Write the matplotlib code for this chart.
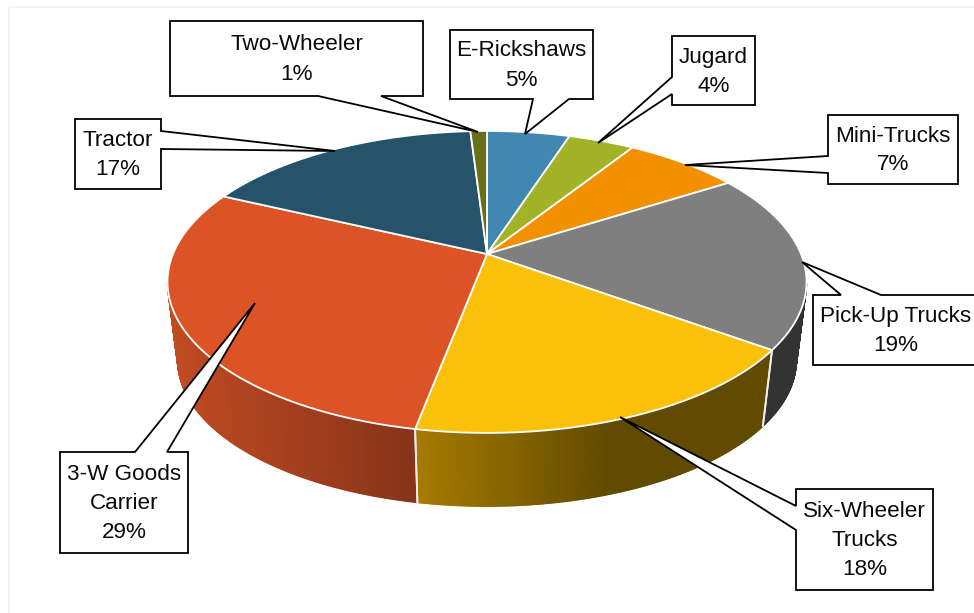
import numpy as np
import matplotlib
matplotlib.use("Agg")
import matplotlib.pyplot as plt
from matplotlib.collections import PolyCollection
from matplotlib.patches import Polygon, Rectangle

categories = ["E-Rickshaws", "Jugard", "Mini-Trucks", "Pick-Up Trucks",
              "Six-Wheeler\nTrucks", "3-W Goods\nCarrier", "Tractor", "Two-Wheeler"]
shares = [5, 4, 7, 19, 18, 29, 17, 1]
top_colors = ["#4187B2", "#A3B327", "#F39000", "#7F7F7F",
              "#FBC108", "#DC5426", "#26536B", "#657019"]

# Wall colours: left-end colour, right-end colour and the x range of the shading
wall_shading = {
    3: ("#333333", "#333333", 760, 810),
    4: ("#A87C00", "#614B00", 410, 610),
    5: ("#C04B22", "#87341A", 170, 409),
}

# Callout layout in pixels: box (x0, y0, x1, y1), pointer base on one side, tip
callouts = {
    "E-Rickshaws": ((450, 30, 593, 99), "bottom", (533, 569), (525, 134)),
    "Jugard": ((672, 36, 755, 105), "left", (77, 94), (598, 143)),
    "Mini-Trucks": ((828, 115, 958, 184), "left", (156, 173), (685, 165)),
    "Pick-Up Trucks": ((813, 295, 985, 365), "top", (841, 881), (802, 262)),
    "Six-Wheeler\nTrucks": ((796, 489, 933, 590), "left", (506, 530), (620, 417)),
    "3-W Goods\nCarrier": ((60, 452, 188, 553), "top", (135, 167), (255, 303)),
    "Tractor": ((75, 119, 161, 189), "right", (131, 149), (335, 151)),
    "Two-Wheeler": ((170, 21, 423, 96), "bottom", (318, 381), (478, 132)),
}
text_centers = {"Pick-Up Trucks": 896}

CX, CY = 487.0, 254.0
WIDTH, HEIGHT, PERSP = 314.0, 145.8, 0.185
WALL_SCALE, WALL_DROP = 0.968, 79.0


def rim(theta):
    """Project a clockwise angle from 12 o'clock onto the tilted pie's top rim."""
    x, y = np.sin(theta), np.cos(theta)
    w = 1 + PERSP * y
    return WIDTH * x / w, -HEIGHT * y / w


def hex_rgb(c):
    return np.array(matplotlib.colors.to_rgb(c))


fig = plt.figure(figsize=(9.74, 6.13), dpi=100)
ax = fig.add_axes([0, 0, 1, 1])
ax.set_xlim(0, 974)
ax.set_ylim(613, 0)
ax.axis("off")

ax.add_patch(Rectangle((9, 7), 1000, 700, fill=False, ec="#F2F2F2", lw=1.2, zorder=0))

edges = np.cumsum([0] + shares) / sum(shares) * 2 * np.pi

# Outer wall, built from narrow strips so the shading runs smoothly;
# only the part facing the viewer is drawn
for i, (a0, a1) in enumerate(zip(edges[:-1], edges[1:])):
    if i not in wall_shading:
        continue
    left, right, xa, xb = wall_shading[i]
    th = np.linspace(a0, a1, 260)
    dx, dy = rim(th)
    tx, ty = CX + dx, CY + dy
    bx, by = CX + WALL_SCALE * dx, CY + WALL_DROP + WALL_SCALE * dy
    quads, cols = [], []
    for k in range(len(th) - 1):
        if ty[k] < CY + 30 and ty[k + 1] < CY + 30:
            continue
        quads.append([(tx[k], ty[k]), (tx[k + 1], ty[k + 1]), (bx[k + 1], by[k + 1]), (bx[k], by[k])])
        t = np.clip(((tx[k] + tx[k + 1]) / 2 - xa) / (xb - xa), 0, 1)
        cols.append((1 - t) * hex_rgb(left) + t * hex_rgb(right))
    ax.add_collection(PolyCollection(quads, facecolors=cols, edgecolors=cols, linewidths=1.0, zorder=2))
    # White seam where two wall sections meet
    for k in (0, -1):
        if ty[k] > CY + 60:
            ax.plot([tx[k], bx[k]], [ty[k], by[k]], color="#EFEFEF", lw=1.3, zorder=3)

# Top face
for a0, a1, color in zip(edges[:-1], edges[1:], top_colors):
    th = np.linspace(a0, a1, 200)
    dx, dy = rim(th)
    pts = np.column_stack([np.r_[CX, CX + dx], np.r_[CY, CY + dy]])
    ax.add_patch(Polygon(pts, closed=True, fc=color, ec="white", lw=1.3, joinstyle="round", zorder=4))

# Callouts with their pointers
for name, share in zip(categories, shares):
    (x0, y0, x1, y1), side, (p, q), tip = callouts[name]
    if side == "bottom":
        pts = [(x0, y0), (x1, y0), (x1, y1), (q, y1), tip, (p, y1), (x0, y1)]
    elif side == "top":
        pts = [(x0, y0), (p, y0), tip, (q, y0), (x1, y0), (x1, y1), (x0, y1)]
    elif side == "left":
        pts = [(x0, y0), (x1, y0), (x1, y1), (x0, y1), (x0, q), tip, (x0, p)]
    else:
        pts = [(x0, y0), (x1, y0), (x1, p), tip, (x1, q), (x1, y1), (x0, y1)]
    ax.add_patch(Polygon(pts, closed=True, fc="white", ec="black", lw=1.3,
                         joinstyle="miter", zorder=5))
    xc = text_centers.get(name, (x0 + x1) / 2)
    ax.text(xc, (y0 + y1) / 2 + 1, f"{name}\n{share}%", ha="center", va="center",
            family="Liberation Sans", fontsize=16.2,
            linespacing=1.5, color="#0A0A0A", zorder=6)

fig.savefig("out.png", dpi=100)
